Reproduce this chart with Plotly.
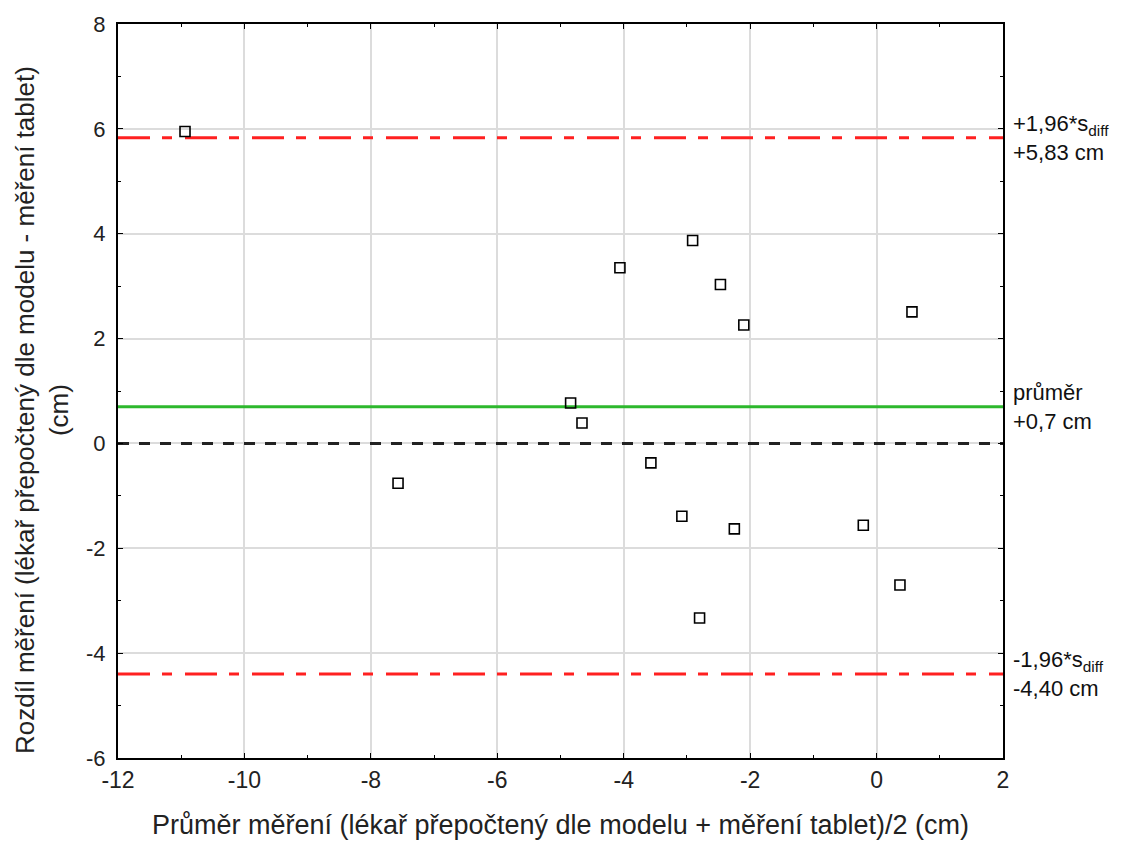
import plotly.graph_objects as go

mean_x = [-10.94, -7.57, -4.06, -2.91, -2.47, -2.10, 0.56, -4.84, -4.66, -3.57, -3.08, -2.25, -0.21, 0.37, -2.80]
diff_y = [5.95, -0.76, 3.35, 3.87, 3.03, 2.26, 2.51, 0.77, 0.39, -0.37, -1.39, -1.63, -1.56, -2.70, -3.33]

bias = 0.7
upper_loa = 5.83
lower_loa = -4.40
x_range = [-12, 2]
y_range = [-6, 8]
x_ticks = [-12, -10, -8, -6, -4, -2, 0, 2]
x_ticklabels = ["-12", "-10", "-8", "-6", "-4", "-2", "0", "2"]
y_ticks = [-6, -4, -2, 0, 2, 4, 6, 8]
y_ticklabels = ["-6", "-4", "-2", "0", "2", "4", "6", "8"]

x_title = "Průměr měření (lékař přepočtený dle modelu + měření tablet)/2 (cm)"
y_title = "Rozdíl měření (lékař přepočtený dle modelu - měření tablet)<br>(cm)"
upper_label = "+1,96*s<sub>diff</sub><br>+5,83 cm"
mean_label = "průměr<br>+0,7 cm"
lower_label = "-1,96*s<sub>diff</sub><br>-4,40 cm"

fig = go.Figure()

def hline(y, color, dash, width):
    fig.add_trace(go.Scatter(x=x_range, y=[y, y], mode="lines",
                             line=dict(color=color, dash=dash, width=width),
                             hoverinfo="skip", showlegend=False))

hline(0, "#222222", "11px,10px", 3)
hline(bias, "#2db82d", "solid", 3)
hline(upper_loa, "#ff2020", "32px,12px,10px,13px", 3)
hline(lower_loa, "#ff2020", "32px,12px,10px,13px", 3)

fig.add_trace(go.Scatter(x=mean_x, y=diff_y, mode="markers",
                         marker=dict(symbol="square-open", size=10,
                                     color="black", line=dict(width=1.6, color="black")),
                         showlegend=False))

font = "Liberation Sans, Arial, sans-serif"
for y, txt in [(upper_loa, upper_label), (bias, mean_label), (lower_loa, lower_label)]:
    fig.add_annotation(x=1, xref="paper", y=y, yref="y", xanchor="left", yanchor="middle",
                       xshift=8, text=txt, showarrow=False, align="left",
                       font=dict(family=font, size=22, color="#111111"))

# y-axis title drawn as rotated annotation (centred slightly below plot centre like the reference)
fig.add_annotation(x=-0.086, xref="paper", y=0.474, yref="paper", xanchor="center", yanchor="middle",
                   text=y_title, textangle=-90, showarrow=False, align="center",
                   font=dict(family=font, size=26, color="#222222"))

axis_common = dict(showline=True, linecolor="black", linewidth=2, mirror="ticks",
                   ticks="inside", ticklen=5, tickcolor="black", tickwidth=1,
                   showgrid=True, gridcolor="#dcdcdc", gridwidth=1.5, zeroline=False,
                   automargin=False,
                   minor=dict(ticks="inside", ticklen=3, tickcolor="black", showgrid=False))

fig.update_xaxes(range=x_range, tickvals=x_ticks, ticktext=x_ticklabels,
                 title=dict(text=x_title, font=dict(family=font, size=27, color="#222222"), standoff=24),
                 tickfont=dict(family=font, size=23, color="#222222"),
                 **axis_common)
fig.update_yaxes(range=y_range, tickvals=y_ticks, ticktext=y_ticklabels, ticklabelstandoff=6,
                 tickfont=dict(family=font, size=22, color="#222222"),
                 **axis_common)

fig.update_layout(width=1121, height=841, plot_bgcolor="white", paper_bgcolor="white",
                  margin=dict(l=118, r=118, t=24, b=83), showlegend=False)

fig.write_html("out.html")
